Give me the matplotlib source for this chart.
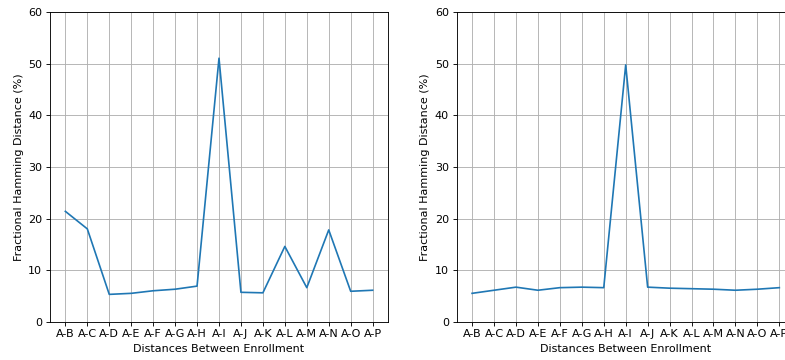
import matplotlib
matplotlib.use("Agg")
import matplotlib.pyplot as plt

pairs = ["A-B", "A-C", "A-D", "A-E", "A-F", "A-G", "A-H", "A-I",
         "A-J", "A-K", "A-L", "A-M", "A-N", "A-O", "A-P"]
left_hd = [21.4, 18.0, 5.3, 5.5, 6.0, 6.3, 6.9, 51.1,
           5.7, 5.6, 14.6, 6.6, 17.8, 5.9, 6.1]
right_hd = [5.5, 6.1, 6.7, 6.1, 6.6, 6.7, 6.6, 49.8,
            6.7, 6.5, 6.4, 6.3, 6.1, 6.3, 6.6]

# rendered at 80 dpi so the default 10pt text comes out at the reference size
dpi = 80
W, H = 785.0, 360.0
fig = plt.figure(figsize=(W / dpi, H / dpi), dpi=dpi)
ax_w = 338 / W
ax_h = (321.7 - 12.3) / H
bottom = (H - 321.7) / H

ax1 = fig.add_axes([50 / W, bottom, ax_w, ax_h])
ax2 = fig.add_axes([456.7 / W, bottom, ax_w, ax_h])

for ax, vals in [(ax1, left_hd), (ax2, right_hd)]:
    ax.plot(pairs, vals, color="#1f77b4", linewidth=1.5)
    ax.set_ylim(0, 60)
    ax.grid(True)
    ax.set_xlabel("Distances Between Enrollment")
    ax.set_ylabel("Fractional Hamming Distance (%)")

fig.savefig("out.png", dpi=dpi)
